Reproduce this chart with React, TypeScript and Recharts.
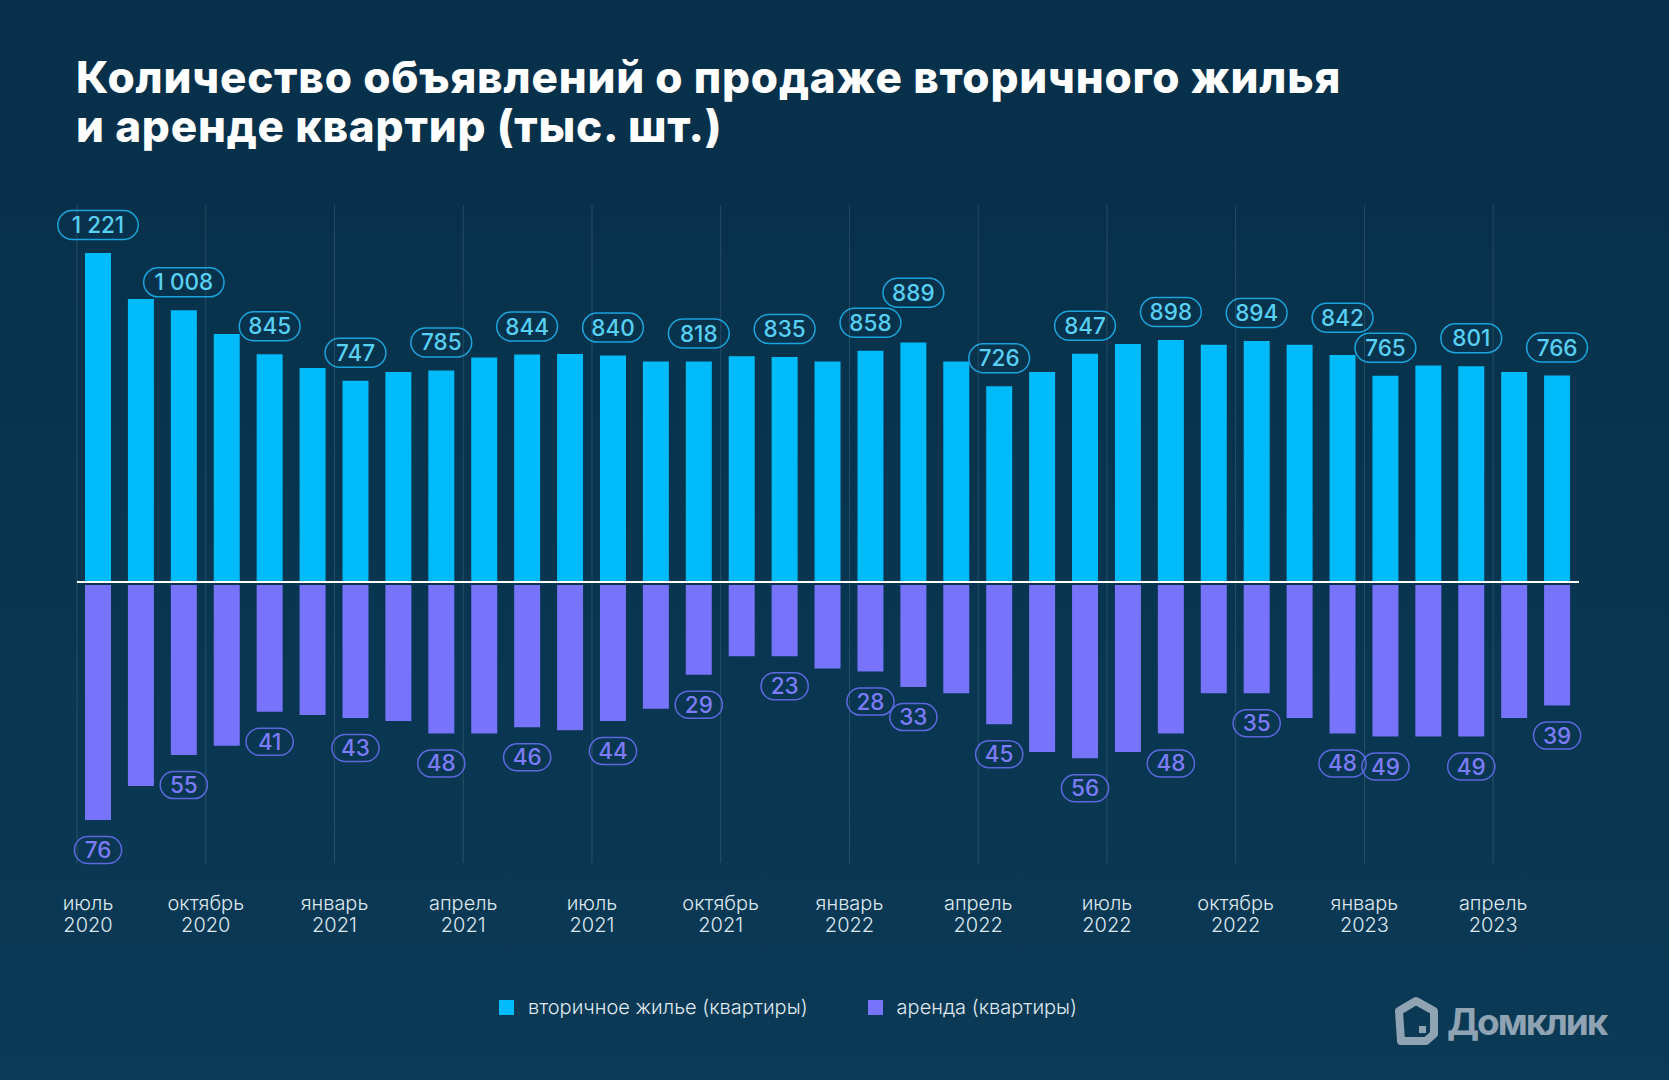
import React from 'react'
import {
  BarChart,
  Bar,
  XAxis,
  YAxis,
  CartesianGrid,
  ReferenceLine,
  LabelList,
  Legend
} from 'recharts'

// page reset, the chart fills the whole window
if (typeof document !== 'undefined') document.body.style.margin = '0'

const months = [
  'июль 2020', 'август 2020', 'сентябрь 2020', 'октябрь 2020', 'ноябрь 2020', 'декабрь 2020',
  'январь 2021', 'февраль 2021', 'март 2021', 'апрель 2021', 'май 2021', 'июнь 2021',
  'июль 2021', 'август 2021', 'сентябрь 2021', 'октябрь 2021', 'ноябрь 2021', 'декабрь 2021',
  'январь 2022', 'февраль 2022', 'март 2022', 'апрель 2022', 'май 2022', 'июнь 2022',
  'июль 2022', 'август 2022', 'сентябрь 2022', 'октябрь 2022', 'ноябрь 2022', 'декабрь 2022',
  'январь 2023', 'февраль 2023', 'март 2023', 'апрель 2023', 'май 2023'
]

// вторичное жильё, тыс. шт.
const secondary = [
  1221, 1050, 1008, 920, 845, 794, 747, 779, 785, 833, 844, 846,
  840, 818, 818, 838, 835, 818, 858, 889, 818, 726, 779, 847,
  883, 898, 880, 894, 880, 842, 765, 803, 801, 779, 766
]

// аренда, тыс. шт.
const rent = [
  76, 65, 55, 52, 41, 42, 43, 44, 48, 48, 46, 47,
  44, 40, 29, 23, 23, 27, 28, 33, 35, 45, 54, 56,
  54, 48, 35, 35, 43, 48, 49, 49, 49, 43, 39
]

// months whose values carry a bubble label
const labeledMonths = [0, 2, 4, 6, 8, 10, 12, 14, 16, 18, 19, 21, 23, 25, 27, 29, 30, 32, 34]

const seriesNames = ['вторичное жилье (квартиры)', 'аренда (квартиры)']

const data = months.map((m, i) => ({
  month: m,
  secondary: secondary[i],
  rent: rent[i],
  rentDown: -rent[i]
}))

const W = 1669
const H = 1080
const MARGIN = { top: 205, right: 90, bottom: 157, left: 77 }
const BAND = (W - MARGIN.left - MARGIN.right) / months.length

const BG = '#08344e'
const CYAN = '#00bbf9'
const VIOLET = '#7773fb'
const labeled = new Set(labeledMonths)

const fmt = (v: number) => String(v).replace(/\B(?=(\d{3})+(?!\d))/g, ' ')
const pillWidth = (s: string) => {
  const digits = s.replace(/\D/g, '').length
  const spaces = s.length - digits
  return digits * 13.6 + spaces * 6 + 20
}

const readBox = (props: any) => {
  const vb = props.viewBox || props
  const x = props.x ?? vb.x
  const y = props.y ?? vb.y
  const width = props.width ?? vb.width
  const height = props.height ?? vb.height
  return { x, y, width, height }
}

// bubble over the secondary bars; taller neighbour is lifted over the shorter one
const SecondaryLabel = (props: any) => {
  const { index, value } = props
  if (!labeled.has(index)) return null
  const { x, y, width, height } = readBox(props)
  const top = Math.min(y, y + height)
  const base = Math.max(y, y + height)
  const k = (base - top) / value
  const natural = (i: number) => base - secondary[i] * k - 28
  let cy = natural(index)
  for (const j of [index - 1, index + 1]) {
    if (labeled.has(j) && secondary[j] < value) cy = Math.min(cy, natural(j) - 30)
  }
  const cx = x + width / 2
  const text = fmt(value)
  const w = pillWidth(text)
  return (
    <g>
      <rect x={cx - w / 2} y={cy - 14.5} width={w} height={29} rx={14.5}
        fill="none" stroke="#1ba3db" strokeWidth={1.5} />
      <text x={cx} y={cy + 8} textAnchor="middle" fill="#58d0f3"
        fontSize={22.5} fontWeight={500} fontFamily="Inter">{text}</text>
    </g>
  )
}

const RentLabel = (props: any) => {
  const { index, value } = props
  if (!labeled.has(index)) return null
  const { x, y, width, height } = readBox(props)
  const bottom = Math.max(y, y + height)
  const cx = x + width / 2
  const cy = bottom + 30
  const text = fmt(Math.abs(value))
  const w = pillWidth(text)
  return (
    <g>
      <rect x={cx - w / 2} y={cy - 13.5} width={w} height={27} rx={13.5}
        fill="none" stroke="#5b68de" strokeWidth={1.5} />
      <text x={cx} y={cy + 8} textAnchor="middle" fill="#7d7cf8"
        fontSize={22.5} fontWeight={500} fontFamily="Inter">{text}</text>
    </g>
  )
}

// quarter ticks sit on the left edge of the month band
const QuarterTick = ({ x, y, payload, index }: any) => {
  if (index % 3 !== 0) return null
  const [m, yr] = String(payload.value).split(' ')
  const lx = x - BAND / 2 + (index === 0 ? 11 : 0)
  return (
    <text x={lx} y={y} textAnchor="middle" fill="#dde7ee"
      fontSize={20} fontWeight={300} fontFamily="Inter">
      <tspan x={lx} dy={47}>{m}</tspan>
      <tspan x={lx} dy={22}>{yr}</tspan>
    </text>
  )
}

const LegendContent = ({ payload }: any) => {
  const items = [...(payload || [])].sort(
    (a: any, b: any) => seriesNames.indexOf(a.value) - seriesNames.indexOf(b.value)
  )
  return (
    <div style={{ display: 'flex', alignItems: 'center', fontFamily: 'Inter', fontWeight: 300, fontSize: 20, color: '#dfe8ef' }}>
      {items.map((p: any, i: number) => (
        <div key={i} style={{ display: 'flex', alignItems: 'center', marginRight: 60 }}>
          <span style={{ width: 15, height: 15, background: p.color, display: 'inline-block', marginRight: 14 }} />
          <span>{p.value}</span>
        </div>
      ))}
    </div>
  )
}

const Logo = () => (
  <div style={{ position: 'absolute', left: 1395, top: 996, display: 'flex', alignItems: 'center' }}>
    <svg width={44} height={50} viewBox="0 0 44 50">
      <path d="M21 5 L39 15 L39 38 L31 45 L6 45 L4 15 Z" fill="none" stroke="#8fa3b3"
        strokeWidth={8} strokeLinejoin="round" />
      <path d="M24 30 L31 30 L31 37 L24 37 Z" fill="#8fa3b3" />
    </svg>
    <span style={{ marginLeft: 8, fontFamily: 'Inter', fontWeight: 700, fontSize: 37, color: '#8fa3b3', letterSpacing: -2 }}>
      Домклик
    </span>
  </div>
)

export default function App() {
  return (
    <div style={{
      position: 'relative', width: W, height: H, overflow: 'hidden',
      background: `linear-gradient(180deg, #07304a 0%, ${BG} 45%, #0b3a56 100%)`
    }}>
      <div style={{
        position: 'absolute', left: 76, top: 53, color: '#ffffff',
        fontFamily: 'Inter', fontWeight: 800, fontSize: 44, lineHeight: '49px', letterSpacing: 0.8
      }}>
        Количество объявлений о продаже вторичного жилья<br />
        и аренде квартир (тыс. шт.)
      </div>

      <div style={{ position: 'absolute', left: 0, top: 0 }}>
        <BarChart width={W} height={H} data={data} margin={MARGIN}>
          <CartesianGrid
            xAxisId="a"
            yAxisId="sale"
            horizontal={false}
            stroke="rgba(255,255,255,0.13)"
            verticalCoordinatesGenerator={({ offset }: any) =>
              months.map((_, i) => i).filter(i => i % 3 === 0)
                .map(i => offset.left + (i * offset.width) / months.length)
            }
          />
          <XAxis
            xAxisId="a"
            dataKey="month"
            interval={0}
            height={60}
            axisLine={false}
            tickLine={false}
            tickSize={0}
            tickMargin={0}
            tick={<QuarterTick />}
          />
          <XAxis xAxisId="b" dataKey="month" hide />
          <YAxis yAxisId="sale" hide domain={[-1043, 1399]} allowDataOverflow />
          <YAxis yAxisId="rent" hide domain={[-89.9, 122.9]} allowDataOverflow />
          <Legend
            layout="horizontal"
            verticalAlign="middle"
            align="center"
            content={<LegendContent />}
            wrapperStyle={{ left: 499, top: 995, width: 'auto', height: 24 }}
          />
          <Bar
            xAxisId="a"
            yAxisId="sale"
            dataKey="secondary"
            name={seriesNames[0]}
            fill={CYAN}
            barSize={26}
            isAnimationActive={false}
          >
            <LabelList dataKey="secondary" content={<SecondaryLabel />} />
          </Bar>
          <Bar
            xAxisId="b"
            yAxisId="rent"
            dataKey="rentDown"
            name={seriesNames[1]}
            fill={VIOLET}
            barSize={26}
            isAnimationActive={false}
          >
            <LabelList dataKey="rent" content={<RentLabel />} />
          </Bar>
          <ReferenceLine xAxisId="a" yAxisId="sale" y={0} stroke="#ffffff" strokeWidth={2} />
        </BarChart>
      </div>

      <Logo />
    </div>
  )
}
